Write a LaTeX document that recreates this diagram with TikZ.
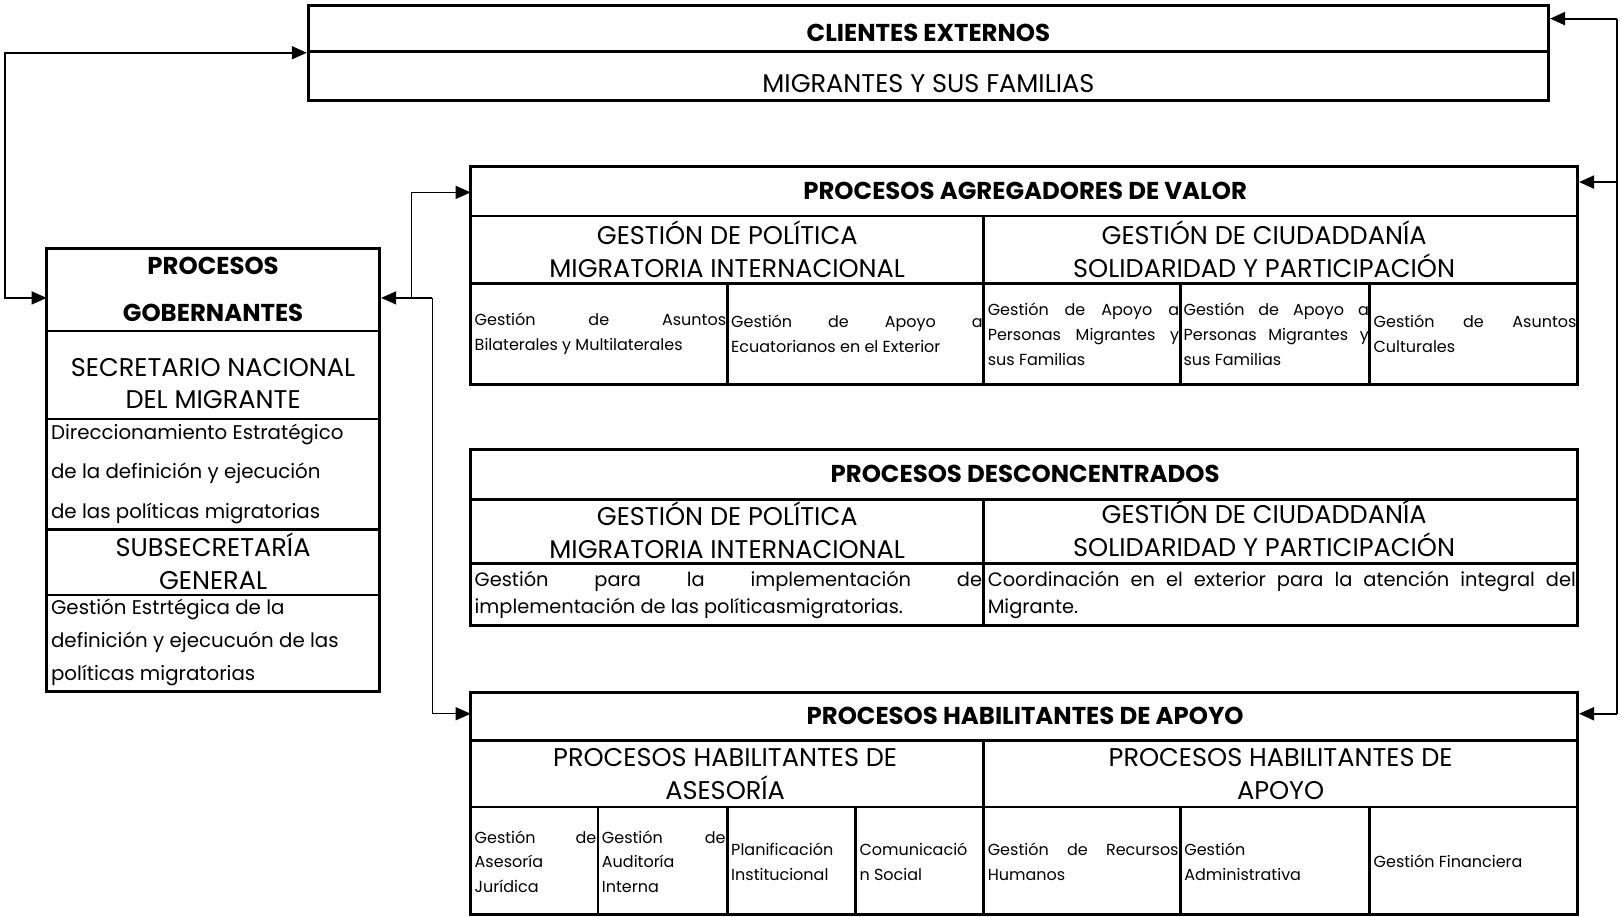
\documentclass[tikz,border=0pt]{standalone}
\usepackage{fontspec}
\setmainfont{Poppins}
\usetikzlibrary{arrows.meta,fit}
\hyphenpenalty=10000
\exhyphenpenalty=10000
\tikzset{
  x=0.5172pt, y=-0.5172pt,
  outer/.style={draw, line width=1.5pt, inner sep=0pt},
  div/.style={line width=1.3pt},
  conn/.style={line width=1pt},
  thinconn/.style={line width=0.65pt},
  tip/.style={-{Triangle[length=7.5pt,width=6.5pt]}},
  bothtip/.style={{Triangle[length=7.5pt,width=6.5pt]}-{Triangle[length=7.5pt,width=6.5pt]}},
  ttl/.style={font=\bfseries\fontsize{12.2}{14}\selectfont, inner sep=0pt},
  big/.style={font=\fontsize{12.8}{16.5}\selectfont, align=center, inner sep=0pt},
  cell/.style={font=\fontsize{8}{12.4}\selectfont, align=justify, inner sep=0pt, anchor=west},
  dcell/.style={font=\fontsize{9.7}{13.4}\selectfont, align=justify, inner sep=0pt, anchor=west},
  gtxt/.style={align=left, inner sep=0pt, anchor=west},
}
\begin{document}
\begin{tikzpicture}
\useasboundingbox (0,0) rectangle (1568,886);

% ---------- CLIENTES EXTERNOS ----------
\node[outer, fit={(298,5) (1497,97)}] (cli) {};
\draw[div] (298,50) -- (1497,50);
\node[ttl] (cliT) at (897.5,32) {CLIENTES EXTERNOS};
\node[big] (cliM) at (897.5,81) {MIGRANTES Y SUS FAMILIAS};

% ---------- PROCESOS GOBERNANTES ----------
\node[outer, fit={(45,240) (367,668)}] (gob) {};
\draw[div] (45,320) -- (367,320);
\draw[div] (45,405) -- (367,405);
\draw[div] (45,512) -- (367,512);
\draw[div] (45,575) -- (367,575);
\node[ttl, align=center, font=\bfseries\fontsize{12.2}{23.3}\selectfont] (gobT) at (206,280) {PROCESOS\\GOBERNANTES};
\node[big, font=\fontsize{12.8}{16}\selectfont] (gobS) at (206,371) {SECRETARIO NACIONAL\\DEL MIGRANTE};
\node[gtxt, font=\fontsize{9.9}{19.9}\selectfont] (gobD) at (49,458) {Direccionamiento Estratégico\\de la definición y ejecución\\de las políticas migratorias};
\node[big, font=\fontsize{12.8}{16.5}\selectfont] (gobSS) at (206,543) {SUBSECRETARÍA\\GENERAL};
\node[gtxt, font=\fontsize{9.9}{16.3}\selectfont] (gobG) at (49,621) {Gestión Estrtégica de la\\definición y ejecucuón de las\\políticas migratorias};

% ---------- PROCESOS AGREGADORES DE VALOR ----------
\node[outer, fit={(455,161) (1525,372)}] (agr) {};
\draw[div] (455,209) -- (1525,209);
\draw[div] (455,274) -- (1525,274);
\draw[div] (951,209) -- (951,372);
\draw[div] (703,274) -- (703,372);
\draw[div] (1141,274) -- (1141,372);
\draw[div] (1324,274) -- (1324,372);
\node[ttl] (agrT) at (991,185) {PROCESOS AGREGADORES DE VALOR};
\node[big] (agrP) at (703,241) {GESTIÓN DE POLÍTICA\\MIGRATORIA INTERNACIONAL};
\node[big] (agrC) at (1222,241) {GESTIÓN DE CIUDADDANÍA\\SOLIDARIDAD Y PARTICIPACIÓN};
\node[cell, text width=125.7pt] (agr1) at (458.5,323) {Gestión de Asuntos\linebreak Bilaterales y Multilaterales};
\node[cell, text width=125.7pt] (agr2) at (706.5,323) {Gestión de Apoyo a\linebreak Ecuatorianos en el Exterior};
\node[cell, text width=95.7pt] (agr3) at (954.5,323) {Gestión de Apoyo a\linebreak Personas Migrantes y\linebreak sus Familias};
\node[cell, text width=92.6pt] (agr4) at (1143.8,323) {Gestión de Apoyo a\linebreak Personas Migrantes y\linebreak sus Familias};
\node[cell, text width=101.4pt] (agr5) at (1327.5,323) {Gestión de Asuntos\linebreak Culturales};

% ---------- PROCESOS DESCONCENTRADOS ----------
\node[outer, fit={(455,435) (1525,605)}] (des) {};
\draw[div] (455,483) -- (1525,483);
\draw[div] (455,545) -- (1525,545);
\draw[div] (951,483) -- (951,605);
\node[ttl] (desT) at (991,458) {PROCESOS DESCONCENTRADOS};
\node[big] (desP) at (703,513) {GESTIÓN DE POLÍTICA\\MIGRATORIA INTERNACIONAL};
\node[big] (desC) at (1222,511) {GESTIÓN DE CIUDADDANÍA\\SOLIDARIDAD Y PARTICIPACIÓN};
\node[dcell, text width=253.7pt] (des1) at (458.5,575) {Gestión para la implementación de\linebreak implementación de las políticasmigratorias.};
\node[dcell, text width=294pt] (des2) at (954.5,575) {Coordinación en el exterior para la atención integral del\linebreak Migrante.};

% ---------- PROCESOS HABILITANTES DE APOYO ----------
\node[outer, fit={(455,669) (1525,884)}] (hab) {};
\draw[div] (455,716) -- (1525,716);
\draw[div] (455,780) -- (1525,780);
\draw[div] (951,716) -- (951,884);
\foreach \xx in {578,703,827,1141,1324} \draw[div] (\xx,780) -- (\xx,884);
\node[ttl] (habT) at (991,692) {PROCESOS HABILITANTES DE APOYO};
\node[big] (habA) at (701,748) {PROCESOS HABILITANTES DE\\ASESORÍA};
\node[big] (habP) at (1238,748) {PROCESOS HABILITANTES DE\\APOYO};
\node[cell, text width=60.8pt] (hab1) at (458.5,833) {Gestión de\linebreak Asesoría\\Jurídica};
\node[cell, text width=61.8pt] (hab2) at (581.5,833) {Gestión de\linebreak Auditoría\\Interna};
\node[cell, text width=61.3pt] (hab3) at (706.5,833) {Planificación\\Institucional};
\node[cell, text width=61.3pt] (hab4) at (830.5,833) {Comunicació\\n Social};
\node[cell, text width=95.4pt] (hab5) at (954.5,833) {Gestión de Recursos\linebreak Humanos};
\node[cell, text width=91.8pt] (hab6) at (1144.5,833) {Gestión\\Administrativa};
\node[cell, text width=101.1pt] (hab7) at (1327.5,833) {Gestión Financiera};

% ---------- CONNECTORS ----------
\coordinate (lbend) at (5,288);
\coordinate (gobL) at (45,288);
\draw[conn, bothtip] (cli.west) -| (lbend) -- (gobL);

\coordinate (rtop) at (1563,18);
\coordinate (ragr) at (1563,176);
\coordinate (rbot) at (1563,690);
\draw[conn] (rtop) -- (rbot);
\draw[conn, tip] (rtop) -- (rtop -| cli.east);
\draw[conn, tip] (ragr) -- (ragr -| agr.east);
\draw[conn, tip] (rbot) -- (rbot -| hab.east);

\coordinate (m1) at (398,288);
\coordinate (m2) at (418,288);
\coordinate (agrin) at (455,186);
\coordinate (habin) at (455,690);
\draw[thinconn, tip] (m2) -- (m2 -| gob.east);
\draw[thinconn, tip] (m1) |- (agrin);
\draw[thinconn, tip] (m2) |- (habin);
\end{tikzpicture}
\end{document}
